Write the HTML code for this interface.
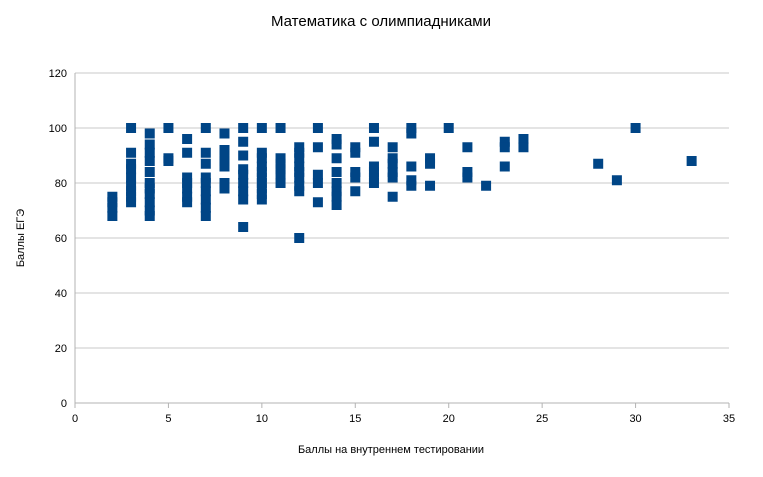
<!DOCTYPE html>
<html><head><meta charset="utf-8"><style>
body{margin:0;background:#fff}
svg text{font-family:"Liberation Sans",sans-serif;fill:#000}
</style></head><body>
<svg id="chart" width="763" height="472" xmlns="http://www.w3.org/2000/svg">
<rect width="763" height="472" fill="#fff"/>
<text x="381" y="26" font-size="15" text-anchor="middle">Математика с олимпиадниками</text>
<text x="391" y="453" font-size="11" text-anchor="middle">Баллы на внутреннем тестировании</text>
<text x="24" y="238" font-size="11" text-anchor="middle" transform="rotate(-90 24 238)">Баллы ЕГЭ</text>
<g id="grid"></g><g id="ticks"></g><g id="pts"></g>
</svg>
<script>
const xTicks=[0,5,10,15,20,25,30,35];
const yTicks=[0,20,40,60,80,100,120];
const xs=[2,3,4,5,6,7,8,9,10,11,12,13,14,15,16,17,18,19,20,21,22,23,24,28,29,30,33];
const ys=[
[75,73,71,68],
[100,91,87,85,82,79,77,75,73],
[98,94,91,88,84,80,78,76,73,70,68],
[100,89,88],
[96,91,82,80,78,75,73],
[100,91,87,82,80,77,74,71,68],
[98,92,90,88,86,80,78],
[100,95,90,85,83,80,77,74,64],
[100,91,89,86,84,82,80,78,76,74],
[100,89,87,85,83,80],
[93,91,89,86,84,82,79,77,60],
[100,93,83,80,73],
[96,94,89,84,80,77,75,72],
[93,91,84,82,77],
[100,95,86,84,82,80],
[93,89,87,84,82,75],
[100,98,86,81,79],
[89,87,79],
[100],
[93,84,82],
[79],
[95,93,86],
[96,93],
[87],[81],[100],[88]];
const X0=75,X1=729,Y0=403,Y1=73;
const sx=v=>X0+(X1-X0)*v/35, sy=v=>Y0-(Y0-Y1)*v/120;
const NS="http://www.w3.org/2000/svg";
const mk=(t,a,p)=>{const e=document.createElementNS(NS,t);for(const k in a)e.setAttribute(k,a[k]);p.appendChild(e);return e;};
const g=document.getElementById('grid'),tk=document.getElementById('ticks'),pg=document.getElementById('pts');
yTicks.forEach(v=>{
 const l=mk('line',{x1:X0,x2:X1,y1:sy(v),y2:sy(v),stroke:v==0?'#b3b3b3':'#c8c8c8','stroke-width':1},g);
 
 
 const t=mk('text',{x:X0-8,y:sy(v)+4,'font-size':11,'text-anchor':'end'},tk);t.textContent=v;
 
 
});
const ax=mk('line',{x1:X0,x2:X0,y1:Y1,y2:Y0,stroke:'#b3b3b3'},g);


xTicks.forEach(v=>{
 const l=mk('line',{x1:sx(v),x2:sx(v),y1:Y0,y2:Y0+5,stroke:'#b3b3b3'},g);
 
 
 const t=mk('text',{x:sx(v),y:Y0+19,'font-size':11,'text-anchor':'middle'},tk);t.textContent=v;
 
 
});
xs.forEach((x,i)=>ys[i].forEach(y=>{
 const r=mk('rect',{x:sx(x)-5,y:sy(y)-5,width:10,height:10,fill:'#004586'},pg);
 
 
}));
</script>
</body></html>
